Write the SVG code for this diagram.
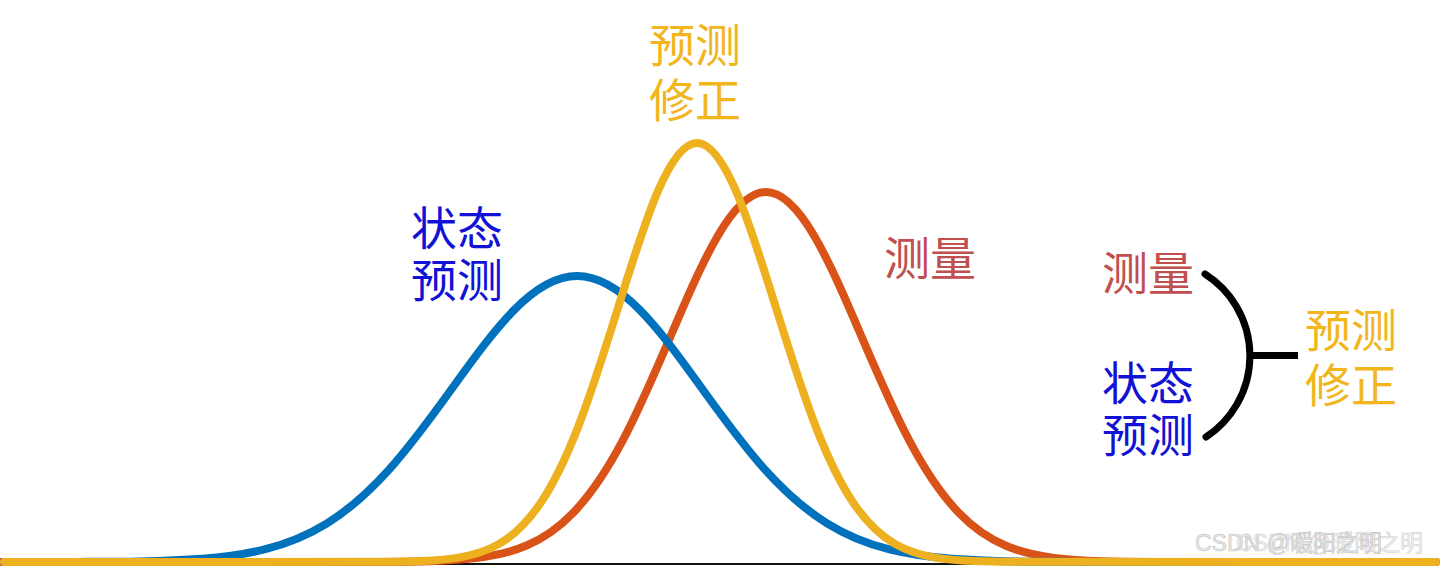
<svg xmlns="http://www.w3.org/2000/svg" width="1440" height="568" viewBox="0 0 1440 568">
<style>
.crv{fill:none;stroke-width:8;stroke-linecap:round;stroke-linejoin:round}
.lbl{font-family:"Noto Sans CJK SC","Noto Sans",sans-serif;font-size:46px}
.blue{fill:#1212D6}
.red{fill:#C0504D}
.yel{fill:#F2B61C}
.wm{font-family:"Liberation Sans","Noto Sans CJK SC",sans-serif;font-size:23px;fill:#e6e6e6;stroke:#b8b8b8;stroke-width:0.6}
</style>
<rect width="1440" height="568" fill="#ffffff"/>
<g id="connectors">
<line id="axis" x1="4" y1="564" x2="1436" y2="564" stroke="#111" stroke-width="2"/>
<path id="orange-curve" class="crv" stroke="#D95319" d="M 0 562 L 382 561.88 C 398 561.8, 414 561.7, 430 561.19 C 446 560.7, 462 559.95, 478 557.9 C 494 555.85, 510 552.6, 526 545.8 C 542 539.0, 558 528.6, 574 511.9 C 590 495.2, 606 471.9, 622 441.9 C 638 411.9, 654 375.0, 670 337.6 C 686 300.2, 702 262.7, 718 235.5 C 734 208.3, 750 192, 766 192 C 782 192, 798 208.3, 814 235.5 C 830 262.7, 846 300.2, 862 337.6 C 878 375.0, 894 411.9, 910 441.9 C 926 471.9, 942 495.2, 958 511.9 C 974 528.6, 990 539.0, 1006 545.8 C 1022 552.6, 1038 555.85, 1054 557.9 C 1070 559.95, 1086 560.7, 1102 561.19 C 1118 561.7, 1134 561.8, 1150 561.88 L 1436 562"/>
<path id="blue-curve" class="crv" stroke="#0072BD" d="M 4 562 L 77 561.9 C 97.8 561.8, 118.7 561.8, 139.5 561.4 C 160.3 561.0, 181.2 560.4, 202 558.8 C 222.8 557.2, 243.7 554.6, 264.5 549.4 C 285.3 544.2, 306.2 536.2, 327 523.3 C 347.8 510.4, 368.7 492.3, 389.5 469.1 C 410.3 445.9, 431.2 417.4, 452 388.5 C 472.8 359.6, 493.7 330.6, 514.5 309.6 C 535.3 288.6, 556.2 276, 577 276 C 597.8 276, 618.7 288.6, 639.5 309.6 C 660.3 330.6, 681.2 359.6, 702 388.5 C 722.8 417.4, 743.7 445.9, 764.5 469.1 C 785.3 492.3, 806.2 510.4, 827 523.3 C 847.8 536.2, 868.7 544.2, 889.5 549.4 C 910.3 554.6, 931.2 557.2, 952 558.8 C 972.8 560.4, 993.7 561.0, 1014.5 561.4 C 1035.3 561.8, 1056.2 561.8, 1077 561.9 L 1436 562"/>
<path id="yellow-curve" class="crv" stroke="#EDB120" d="M 4 562 L 381 561.86 C 394.2 561.8, 407.3 561.6, 420.5 561.1 C 433.7 560.5, 446.8 559.7, 460 557.35 C 473.2 555.0, 486.3 551.3, 499.5 543.6 C 512.7 535.9, 525.8 524.2, 539 505.3 C 552.2 486.4, 565.3 460.0, 578.5 426.0 C 591.7 392.0, 604.8 350.3, 618 307.9 C 631.2 265.6, 644.3 223.0, 657.5 192.2 C 670.7 161.4, 683.8 143, 697 143 C 710.2 143, 723.3 161.4, 736.5 192.2 C 749.7 223.0, 762.8 265.6, 776 307.9 C 789.2 350.3, 802.3 392.0, 815.5 426.0 C 828.7 460.0, 841.8 486.4, 855 505.3 C 868.2 524.2, 881.3 535.9, 894.5 543.6 C 907.7 551.3, 920.8 555.0, 934 557.35 C 947.2 559.7, 960.3 560.5, 973.5 561.1 C 986.7 561.6, 999.8 561.8, 1013 561.86 L 1436 562"/>
<path id="bracket" d="M 1205 274 A 97 97 0 0 1 1206 437" fill="none" stroke="#000" stroke-width="7" stroke-linecap="round"/>
<line id="bracket-stem" x1="1249" y1="355.5" x2="1298" y2="355.5" stroke="#000" stroke-width="7"/>
</g>
<g id="label-state-prediction">
<text class="lbl blue" x="411" y="245">状态</text>
<text class="lbl blue" x="411" y="297">预测</text>
</g>
<g id="label-corrected-top">
<text class="lbl yel" x="649" y="62">预测</text>
<text class="lbl yel" x="649" y="117">修正</text>
</g>
<g id="label-measurement">
<text class="lbl red" x="884" y="275">测量</text>
</g>
<g id="legend-measurement">
<text class="lbl red" x="1102" y="290">测量</text>
</g>
<g id="legend-state-prediction">
<text class="lbl blue" x="1102" y="400">状态</text>
<text class="lbl blue" x="1102" y="452">预测</text>
</g>
<g id="legend-corrected">
<text class="lbl yel" x="1305" y="347">预测</text>
<text class="lbl yel" x="1305" y="402">修正</text>
</g>
<g id="watermark" opacity="0.85">
<text class="wm" x="1195" y="551">CSDN @暖阳之明</text>
<text class="wm" x="1236" y="551" opacity="0.7">CSDN @暖阳之明</text>
</g>
</svg>
